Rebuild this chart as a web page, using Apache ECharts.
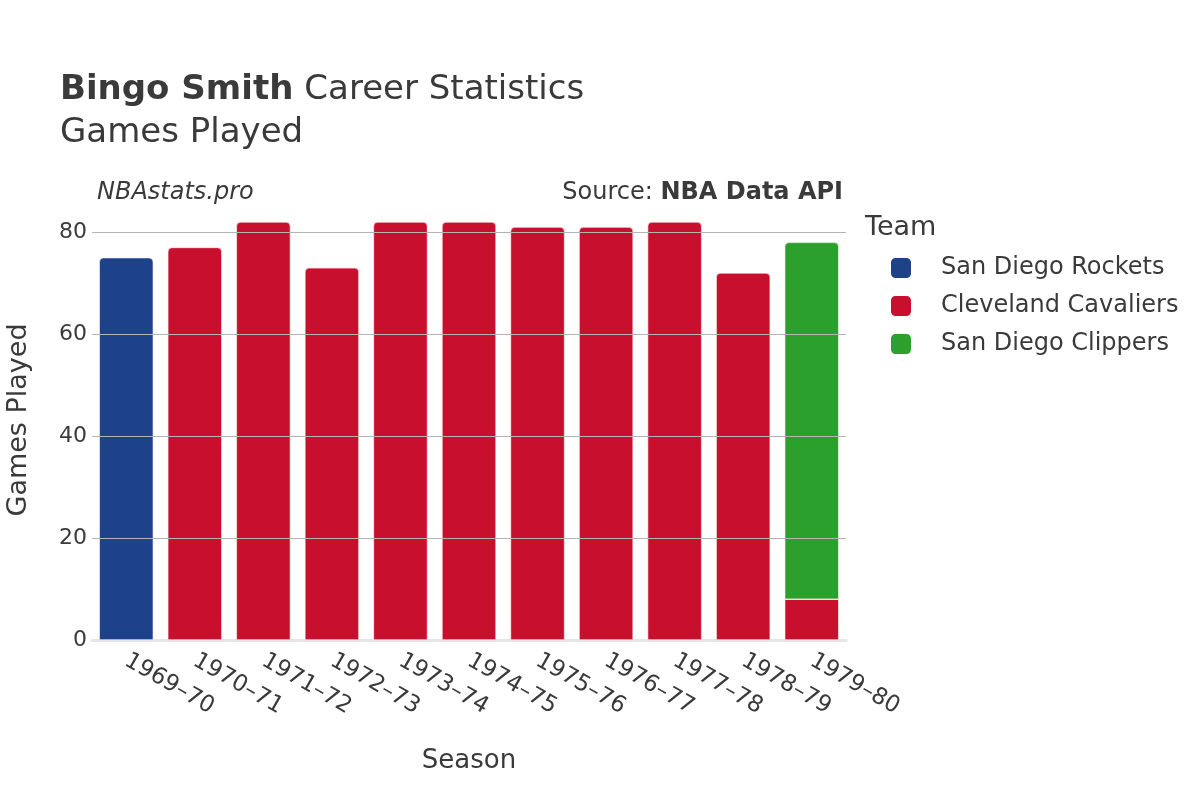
<!DOCTYPE html>
<html>
<head>
<meta charset="utf-8">
<script src="https://cdn.jsdelivr.net/npm/echarts@6/dist/echarts.min.js"></script>
<style>html,body{margin:0;padding:0;background:#fff}#c{width:1200px;height:800px}</style>
</head>
<body>
<div id="c"></div>
<script>
const seasons = ["1969\u201370","1970\u201371","1971\u201372","1972\u201373","1973\u201374","1974\u201375","1975\u201376","1976\u201377","1977\u201378","1978\u201379","1979\u201380"];
const teamNames = ["San Diego Rockets","Cleveland Cavaliers","San Diego Clippers"];
const rocketsGames = [75, null, null, null, null, null, null, null, null, null, null];
const cavaliersGames = [null, 77, 82, 73, 82, 82, 81, 81, 82, 72, 8];
const clippersGames = [null, null, null, null, null, null, null, null, null, null, 70];
const yTicks = [0, 20, 40, 60, 80];

const FONT = "DejaVu Sans";
const TXT = '#3a3a3a';
const colors = ["#1d428a", "#c8102e", "#2ca02c"];

function cavData() {
  return cavaliersGames.map((v, i) => {
    if (v == null) return null;
    const covered = clippersGames[i] != null;
    return { value: v, itemStyle: { borderRadius: covered ? 0 : [4, 4, 0, 0] } };
  });
}

const chart = echarts.init(document.getElementById('c'), null, { renderer: 'canvas' });
chart.setOption({
  animation: false,
  textStyle: { fontFamily: FONT },
  title: [
    {
      left: 55, top: 64,
      text: "{b|Bingo Smith}{r1|Career Statistics}\n{r|Games Played}",
      textStyle: {
        fontWeight: 'normal',
        rich: {
          b: { fontFamily: FONT, fontSize: 34, fontWeight: 'bold', color: TXT, lineHeight: 43 },
          r1: { fontFamily: FONT, fontSize: 34, fontWeight: 'normal', color: TXT, lineHeight: 43, padding: [0, 0, 0, 11] },
          r: { fontFamily: FONT, fontSize: 34, fontWeight: 'normal', color: TXT, lineHeight: 43 }
        }
      }
    },
    {
      left: 92, top: 176, text: "NBAstats.pro",
      textStyle: { fontFamily: FONT, fontSize: 24, fontStyle: 'italic', fontWeight: 'normal', color: TXT }
    },
    {
      right: 352, top: 176, text: "{r|Source: }{b|NBA Data API}",
      textStyle: {
        fontWeight: 'normal',
        rich: {
          r: { fontFamily: FONT, fontSize: 24, fontWeight: 'normal', color: TXT },
          b: { fontFamily: FONT, fontSize: 24, fontWeight: 'bold', color: TXT }
        }
      }
    },
    {
      left: 860, top: 209, text: "Team",
      textStyle: { fontFamily: FONT, fontSize: 27, fontWeight: 'normal', color: TXT }
    }
  ],
  legend: {
    orient: 'vertical', left: 884, top: 251,
    icon: 'roundRect', itemWidth: 22, itemHeight: 22, itemGap: 14,
    data: teamNames,
    textStyle: { fontFamily: FONT, fontSize: 24, color: TXT, padding: [0, 0, 0, 24] }
  },
  grid: { left: 92, right: 354, top: 200, bottom: 160, containLabel: false, outerBoundsMode: 'none' },
  xAxis: {
    type: 'category', data: seasons,
    name: 'Season', nameLocation: 'middle', nameGap: 108,
    nameTextStyle: { fontFamily: FONT, fontSize: 26, color: TXT },
    axisLine: { show: true, lineStyle: { color: '#e5e5e5', width: 3 } },
    axisTick: { show: false },
    axisLabel: { rotate: -30, fontFamily: FONT, fontSize: 23, color: TXT, margin: 19, interval: 0 }
  },
  yAxis: {
    type: 'value', min: 0, max: 86.3,
    name: 'Games Played', nameLocation: 'middle', nameGap: 60,
    nameTextStyle: { fontFamily: FONT, fontSize: 27, color: TXT },
    axisLine: { show: false }, axisTick: { show: false },
    axisLabel: {
      fontFamily: FONT, fontSize: 22, color: TXT, margin: 5,
      customValues: yTicks
    },
    splitLine: { show: false }
  },
  series: [
    {
      name: 'grid', type: 'line', data: [], z: 0, silent: true,
      markLine: {
        silent: true, symbol: 'none', animation: false,
        label: { show: false },
        lineStyle: { color: '#b4b4b4', width: 1, type: 'solid' },
        data: yTicks.filter(v => v > 0).map(v => ({ yAxis: v }))
      }
    },
    {
      name: teamNames[0], type: 'bar', stack: 'total', barWidth: '79%', z: 2,
      data: rocketsGames,
      itemStyle: { color: colors[0], borderRadius: [4, 4, 0, 0], borderColor: '#fff', borderWidth: 0.6 }
    },
    {
      name: teamNames[1], type: 'bar', stack: 'total', barWidth: '79%', z: 2,
      data: cavData(),
      itemStyle: { color: colors[1], borderColor: '#fff', borderWidth: 0.6 }
    },
    {
      name: teamNames[2], type: 'bar', stack: 'total', barWidth: '79%', z: 2,
      data: clippersGames,
      itemStyle: { color: colors[2], borderRadius: [4, 4, 0, 0], borderColor: '#fff', borderWidth: 0.6 }
    }
  ]
});
</script>
</body>
</html>
